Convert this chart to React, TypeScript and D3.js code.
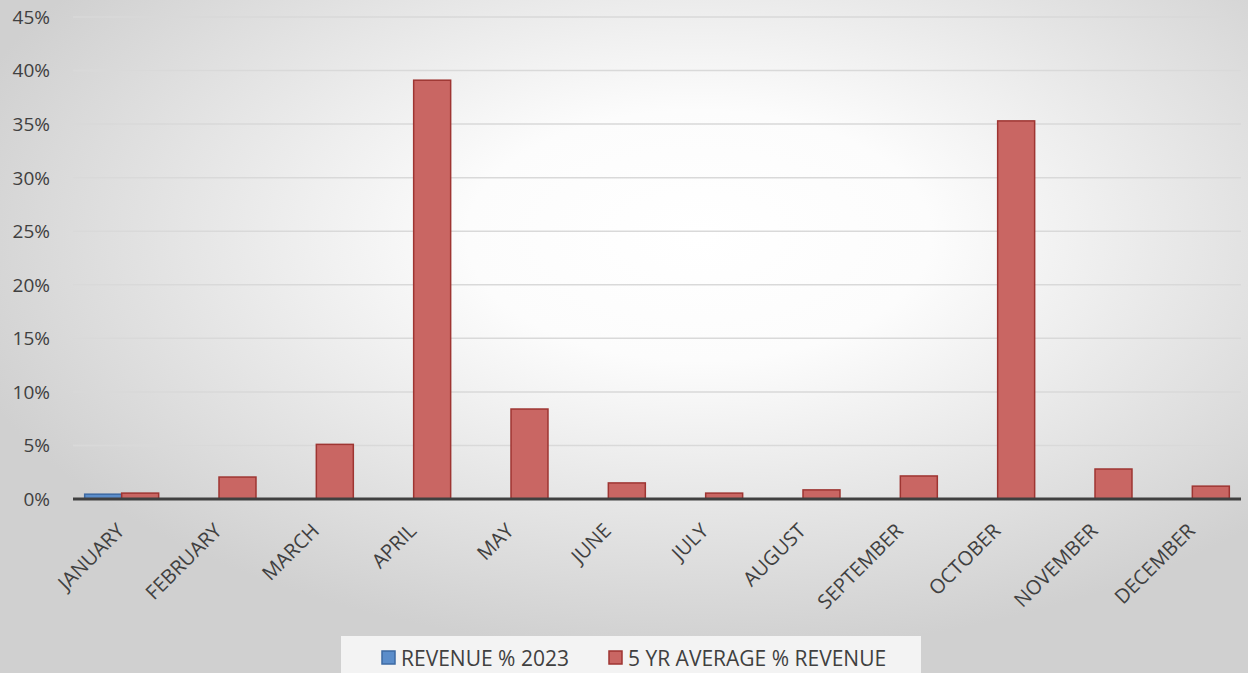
import React from "react";
import * as d3 from "d3";

const months = ["JANUARY","FEBRUARY","MARCH","APRIL","MAY","JUNE","JULY","AUGUST","SEPTEMBER","OCTOBER","NOVEMBER","DECEMBER"];
const revenue2023: (number | null)[] = [0.45, null, null, null, null, null, null, null, null, null, null, null];
const avg5yr = [0.55, 2.05, 5.1, 39.1, 8.4, 1.5, 0.55, 0.85, 2.15, 35.3, 2.8, 1.2];
const yTicks = [0, 5, 10, 15, 20, 25, 30, 35, 40, 45];
const seriesNames = ["REVENUE % 2023", "5 YR AVERAGE % REVENUE"];

const W = 1248, H = 673;
const left = 73, right = 1241, top = 17, bottom = 499;
const font = "'Open Sans', 'Noto Sans', sans-serif";

export default function App() {
  const x = d3.scaleBand<string>().domain(months).range([left, right]).paddingInner(0.24).paddingOuter(0.12);
  const y = d3.scaleLinear().domain([0, 45]).range([bottom, top]);
  const bw = x.bandwidth() / 2;
  return (
    <svg width={W} height={H} style={{ position: "absolute", left: 0, top: 0 }} fontFamily={font}>
      <defs>
        <radialGradient id="bg" cx="0.56" cy="0.35" r="0.62" gradientUnits="objectBoundingBox">
          <stop offset="0" stopColor="#ffffff" />
          <stop offset="0.3" stopColor="#fcfcfc" />
          <stop offset="1" stopColor="#d0d0d0" />
        </radialGradient>
      </defs>
      <rect width={W} height={H} fill="url(#bg)" />
      {yTicks.map((t) => (
        <g key={t}>
          {t > 0 && <line x1={left} x2={right} y1={y(t)} y2={y(t)} stroke="#d9d9d9" strokeWidth={1.5} />}
          <text x={50} y={y(t)} dy="0.36em" textAnchor="end" fontSize={19} fill="#404040">{t}%</text>
        </g>
      ))}
      {months.map((m, i) => {
        const x0 = x(m)!;
        const r = revenue2023[i];
        return (
          <g key={m}>
            {r != null && (
              <rect x={x0} y={y(r)} width={bw} height={bottom - y(r)} fill="#5b8dca" stroke="#3d6aa3" strokeWidth={1.5} />
            )}
            <rect x={x0 + bw} y={y(avg5yr[i])} width={bw} height={bottom - y(avg5yr[i])} fill="#c96663" stroke="#9e3532" strokeWidth={1.5} />
          </g>
        );
      })}
      <line x1={left} x2={right} y1={bottom} y2={bottom} stroke="#404040" strokeWidth={3} />
      {months.map((m) => {
        const cx = x(m)! + x.bandwidth() / 2 + 4;
        return (
          <text key={m} transform={`translate(${cx},${bottom + 33}) rotate(-45)`} textAnchor="end" fontSize={20} fill="#404040">{m}</text>
        );
      })}
      <rect x={341} y={636} width={580} height={37} fill="#f3f3f3" />
      <rect x={382} y={651} width={13} height={13} fill="#5b8dca" stroke="#3d6aa3" strokeWidth={1.5} />
      <text x={401} y={658} dy="0.36em" fontSize={21} fill="#404040">{seriesNames[0]}</text>
      <rect x={609} y={651} width={13} height={13} fill="#c96663" stroke="#9e3532" strokeWidth={1.5} />
      <text x={628} y={658} dy="0.36em" fontSize={21} fill="#404040">{seriesNames[1]}</text>
    </svg>
  );
}
